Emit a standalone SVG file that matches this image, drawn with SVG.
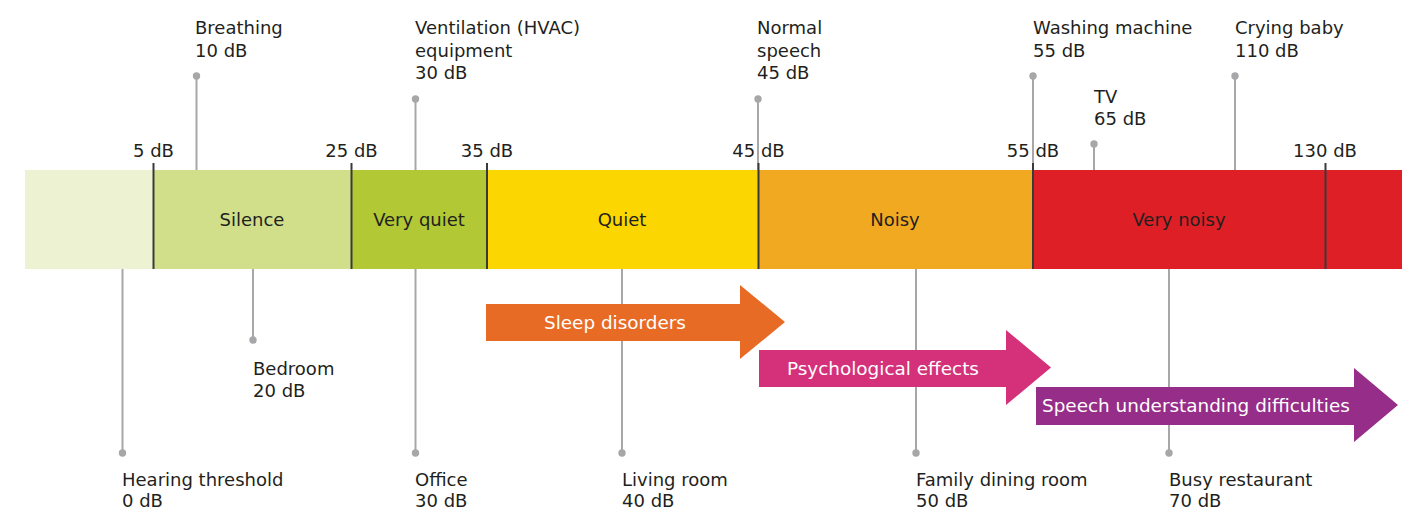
<svg xmlns="http://www.w3.org/2000/svg" width="1402" height="511" viewBox="0 0 1402 511">
<style>
text{font-family:"DejaVu Sans","Liberation Sans",sans-serif;font-size:18px;fill:#231f20}
.c{text-anchor:middle}
.w{fill:#fff;font-size:18.4px}
.pin{stroke:#a7a7aa;stroke-width:2;fill:none}
.dot{fill:#a7a7aa}
.div{stroke:#3a3a3a;stroke-width:2}
</style>
<defs>
<circle id="d" r="3.7" class="dot"/>
</defs>
<g id="bar">
<rect x="25" y="170" width="129" height="99" fill="#ecf2d2"/>
<rect x="153.5" y="170" width="198" height="99" fill="#d2df8a"/>
<rect x="351.5" y="170" width="136" height="99" fill="#b2c834"/>
<rect x="487" y="170" width="272" height="99" fill="#fbd600"/>
<rect x="758.5" y="170" width="275" height="99" fill="#f2a922"/>
<rect x="1033" y="170" width="369" height="99" fill="#de1f26"/>
</g>
<g id="segment-labels">
<text class="c" x="252" y="226">Silence</text>
<text class="c" x="419" y="226">Very quiet</text>
<text class="c" x="622" y="226">Quiet</text>
<text class="c" x="895" y="226">Noisy</text>
<text class="c" x="1179" y="226">Very noisy</text>
</g>
<g id="connectors">
<path class="pin" d="M196.5 76V170M415.5 99V170M758 99V170M1033 76V170M1094 144V170M1235 76V170"/>
<path class="pin" d="M122.5 269V453M253 269V340M415.5 269V453M622 269V453M916 269V453M1169 269V453"/>
<use href="#d" x="196.5" y="76"/><use href="#d" x="415.5" y="99"/><use href="#d" x="758" y="99"/>
<use href="#d" x="1033" y="76"/><use href="#d" x="1094" y="144"/><use href="#d" x="1235" y="76"/>
<use href="#d" x="122.5" y="453"/><use href="#d" x="253" y="340"/><use href="#d" x="415.5" y="453"/>
<use href="#d" x="622" y="453"/><use href="#d" x="916" y="453"/><use href="#d" x="1169" y="453"/>
</g>
<g id="ticks">
<path class="div" d="M153.5 163V269M351.5 163V269M487 163V269M758.5 163V269M1033 163V269M1325.5 163V269"/>
<text class="c" x="153.5" y="157">5 dB</text>
<text class="c" x="351.5" y="157">25 dB</text>
<text class="c" x="487" y="157">35 dB</text>
<text class="c" x="758.5" y="157">45 dB</text>
<text class="c" x="1033" y="157">55 dB</text>
<text class="c" x="1325" y="157">130 dB</text>
</g>
<g id="breathing"><text x="195" y="34">Breathing</text><text x="195" y="57">10 dB</text></g>
<g id="ventilation"><text x="415" y="34">Ventilation (HVAC)</text><text x="415" y="56.5">equipment</text><text x="415" y="79">30 dB</text></g>
<g id="normal-speech"><text x="757" y="34">Normal</text><text x="757" y="56.5">speech</text><text x="757" y="79">45 dB</text></g>
<g id="washing-machine"><text x="1033" y="34">Washing machine</text><text x="1033" y="57">55 dB</text></g>
<g id="tv"><text x="1094" y="103">TV</text><text x="1094" y="125">65 dB</text></g>
<g id="crying-baby"><text x="1235" y="34">Crying baby</text><text x="1235" y="57">110 dB</text></g>
<g id="hearing-threshold"><text x="122" y="486">Hearing threshold</text><text x="122" y="506.5">0 dB</text></g>
<g id="bedroom"><text x="253" y="375">Bedroom</text><text x="253" y="397">20 dB</text></g>
<g id="office"><text x="415" y="486">Office</text><text x="415" y="506.5">30 dB</text></g>
<g id="living-room"><text x="622" y="486">Living room</text><text x="622" y="506.5">40 dB</text></g>
<g id="family-dining-room"><text x="916" y="486">Family dining room</text><text x="916" y="506.5">50 dB</text></g>
<g id="busy-restaurant"><text x="1169" y="486">Busy restaurant</text><text x="1169" y="506.5">70 dB</text></g>
<g id="sleep-disorders">
<polygon points="486,304 740,304 740,285 785,322 740,359 740,341 486,341" fill="#e86b25"/>
<text class="w" x="544" y="329">Sleep disorders</text>
</g>
<g id="psychological-effects">
<polygon points="759,350 1006,350 1006,330 1051,367.5 1006,405 1006,387 759,387" fill="#d4317a"/>
<text class="w" x="787" y="375">Psychological effects</text>
</g>
<g id="speech-understanding">
<polygon points="1036,387 1354,387 1354,368 1398,405 1354,442 1354,425 1036,425" fill="#962d89"/>
<text class="w" x="1042" y="412">Speech understanding difficulties</text>
</g>
</svg>
